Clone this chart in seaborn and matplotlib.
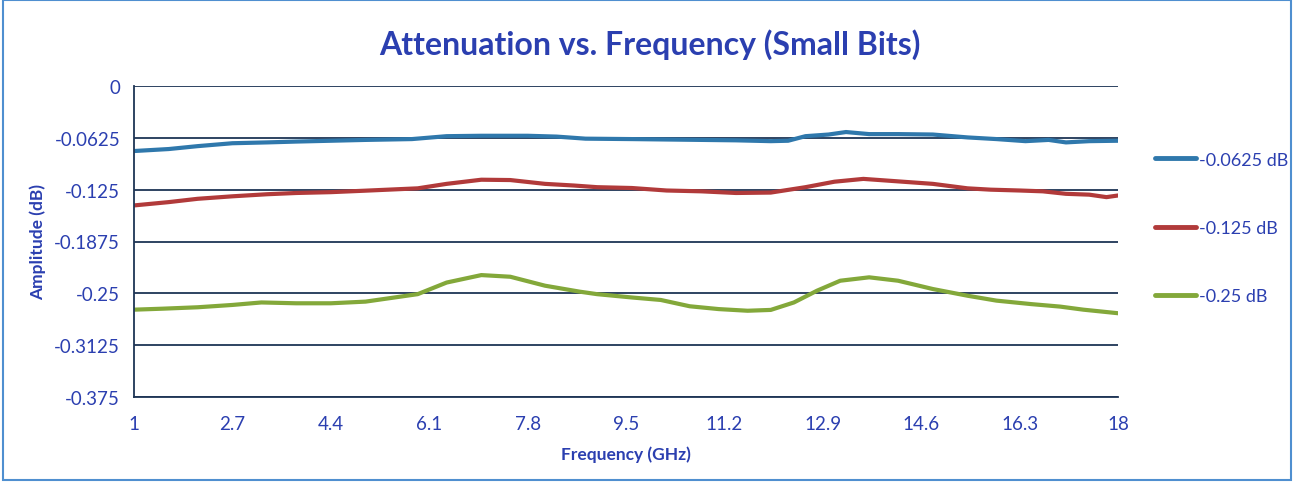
import matplotlib
matplotlib.use("Agg")
import matplotlib.pyplot as plt
import seaborn as sns
import pandas as pd
from matplotlib.patches import Rectangle

# data
freq_a = [1.0, 1.6, 2.1, 2.7, 3.3, 3.8, 4.4, 5.0, 5.8, 6.4, 7.0, 7.8, 8.3, 8.8,
          9.6, 10.2, 10.8, 11.4, 12.0, 12.3, 12.6, 13.0, 13.3, 13.7, 14.2, 14.8,
          15.4, 15.9, 16.4, 16.8, 17.1, 17.5, 18.0]
blue = [-0.0784, -0.0760, -0.0725, -0.0690, -0.0680, -0.0670, -0.0660, -0.0650,
        -0.0640, -0.0605, -0.0600, -0.0600, -0.0610, -0.0635, -0.0640, -0.0645,
        -0.0650, -0.0655, -0.0665, -0.0660, -0.0605, -0.0585, -0.0555, -0.0580,
        -0.0580, -0.0585, -0.0620, -0.0640, -0.0665, -0.0650, -0.0680, -0.0665,
        -0.0660]

freq_b = [1.0, 1.6, 2.1, 2.7, 3.3, 3.8, 4.4, 5.0, 5.9, 6.4, 7.0, 7.5, 8.1, 8.6,
          9.0, 9.6, 10.2, 10.8, 11.4, 12.0, 12.6, 13.1, 13.6, 14.2, 14.8, 15.4,
          15.8, 16.3, 16.7, 17.1, 17.5, 17.8, 18.0]
red = [-0.1440, -0.1400, -0.1360, -0.1330, -0.1305, -0.1290, -0.1280, -0.1262,
       -0.1234, -0.1180, -0.1130, -0.1134, -0.1180, -0.1200, -0.1220, -0.1230,
       -0.1260, -0.1270, -0.1290, -0.1285, -0.1220, -0.1154, -0.1120, -0.1150,
       -0.1180, -0.1234, -0.1250, -0.1260, -0.1270, -0.1300, -0.1310, -0.1340,
       -0.1320]

freq_c = [1.0, 1.5, 2.1, 2.7, 3.2, 3.8, 4.4, 5.0, 5.5, 5.9, 6.4, 7.0, 7.5, 8.1,
          8.7, 9.0, 9.6, 10.1, 10.6, 11.1, 11.6, 12.0, 12.4, 12.8, 13.2, 13.7,
          14.2, 14.8, 15.4, 15.9, 16.5, 17.0, 17.4, 18.0]
green = [-0.2697, -0.2685, -0.2668, -0.2640, -0.2610, -0.2620, -0.2620, -0.2600,
         -0.2550, -0.2510, -0.2370, -0.2280, -0.2300, -0.2408, -0.2480, -0.2510,
         -0.2550, -0.2580, -0.2656, -0.2690, -0.2710, -0.2700, -0.2610, -0.2468,
         -0.2348, -0.2307, -0.2348, -0.2448, -0.2529, -0.2588, -0.2630, -0.2660,
         -0.2697, -0.2740]

labels = ["-0.0625 dB", "-0.125 dB", "-0.25 dB"]
colors = ["#2F78AC", "#B13A3A", "#83A83A"]
x_ticks = [1, 2.7, 4.4, 6.1, 7.8, 9.5, 11.2, 12.9, 14.6, 16.3, 18]
y_ticks = [0, -0.0625, -0.125, -0.1875, -0.25, -0.3125, -0.375]
y_tick_labels = ["0", "-0.0625", "-0.125", "-0.1875", "-0.25", "-0.3125", "-0.375"]

df = pd.concat([
    pd.DataFrame({"freq": freq_a, "amp": blue, "series": labels[0]}),
    pd.DataFrame({"freq": freq_b, "amp": red, "series": labels[1]}),
    pd.DataFrame({"freq": freq_c, "amp": green, "series": labels[2]}),
])

sns.set_style("white")
plt.rcParams["font.family"] = ["Lato", "DejaVu Sans"]
text_blue = "#2B3FB0"
grid_col = "#1E3555"

fig = plt.figure(figsize=(12.99, 4.85), dpi=100)
ax = fig.add_axes([0.1032, 0.1794, 0.7575, 0.6412])

sns.lineplot(data=df, x="freq", y="amp", hue="series", hue_order=labels,
             palette=colors, linewidth=3.0, ax=ax, sort=False,
             estimator=None)

ax.set_xlim(1, 18)
ax.set_ylim(-0.375, 0)
ax.set_xticks(x_ticks)
ax.set_xticklabels([str(t) for t in x_ticks])
ax.set_yticks(y_ticks)
ax.set_yticklabels(y_tick_labels)
for yt in y_ticks:
    ax.axhline(yt, color=grid_col, linewidth=1.3, zorder=0)
ax.tick_params(axis="both", colors=text_blue, labelsize=13.5, length=0)
ax.tick_params(axis="x", pad=13)
ax.tick_params(axis="y", pad=10)
for s in ["top", "right"]:
    ax.spines[s].set_visible(False)
for s in ["left", "bottom"]:
    ax.spines[s].set_color(grid_col)
    ax.spines[s].set_linewidth(1.3)

ax.set_xlabel("Frequency (GHz)", color=text_blue, fontsize=12.5, fontweight="bold",
              labelpad=10)
ax.set_ylabel("Amplitude (dB)", color=text_blue, fontsize=12.5, fontweight="bold",
              labelpad=6)
fig.suptitle("Attenuation vs. Frequency (Small Bits)", x=0.5, y=0.94,
             color=text_blue, fontsize=23, fontweight="bold")

handles, lbls = ax.get_legend_handles_labels()
leg = ax.legend(handles, lbls, loc="center left", bbox_to_anchor=(1.021, 0.543),
                frameon=False, fontsize=13, labelspacing=2.9, handlelength=2.3,
                handletextpad=0.15, labelcolor=text_blue)
for h in leg.get_lines():
    h.set_linewidth(3.5)

fig.patches.append(Rectangle((0.002, 0.008), 0.992, 0.99, transform=fig.transFigure,
                             fill=False, edgecolor="#4F8FD0", linewidth=1.5))

fig.savefig("out.png", dpi=100)
